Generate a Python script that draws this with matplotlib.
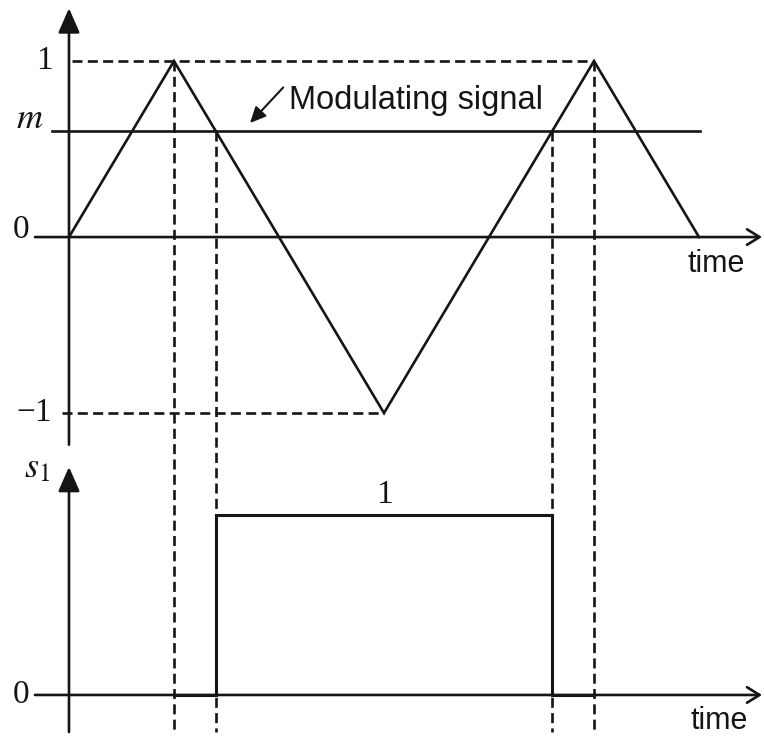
import matplotlib.pyplot as plt

plt.rcParams['mathtext.fontset'] = 'stix'

# carrier (triangle) and modulating level
carrier_t = [0, 1, 3, 5, 6]
carrier_v = [0, 1, -1, 1, 0]
m_level = 0.6
peak_t = [1, 5]
trough_t = 3
cross_t = [1.4, 4.6]

# switching signal s1
s1_t = [1, 1.4, 1.4, 4.6, 4.6, 5]
s1_v = [0, 0, 1, 1, 0, 0]

ink = '#151515'
lw = 1.9
dash = (0, (3.8, 2.0))
serif = 'Liberation Serif'
sans = 'Liberation Sans'

fig = plt.figure(figsize=(7.64, 7.36), dpi=100)
ax = fig.add_axes([0, 0, 1, 1])
ax2 = fig.add_axes([0, 0, 1, 1])
ax2.patch.set_visible(False)
for a in (ax, ax2):
    a.set_xlim(-0.657, 6.619)
    a.axis('off')
ax.set_ylim(-2.835, 1.347)
ax2.set_ylim(-0.228, 3.861)


def axis_arrow(a, tip, start, style):
    a.annotate('', xy=tip, xytext=start, annotation_clip=False,
               arrowprops=dict(arrowstyle=style, mutation_scale=20, lw=lw,
                               color=ink, shrinkA=0, shrinkB=0))


y_arrow = '-|>,head_length=0.75,head_width=0.33'
t_arrow = '->,head_length=0.45,head_width=0.28'

# --- upper panel ---
axis_arrow(ax, (0, 1.30), (0, -1.18), y_arrow)
axis_arrow(ax, (6.6, 0), (-0.324, 0), t_arrow)
ax.plot([-0.162, 6.01], [m_level, m_level], color=ink, lw=lw)
ax.plot(carrier_t, carrier_v, color=ink, lw=lw, solid_joinstyle='miter')

ax.plot([0.03, peak_t[1]], [1, 1], color=ink, lw=lw, ls=dash)
ax.plot([-0.067, trough_t], [-1, -1], color=ink, lw=lw, ls=dash)

y_bottom = -2.8125
for t in peak_t:
    ax.plot([t, t], [1, y_bottom], color=ink, lw=lw, ls=dash)
for t in cross_t:
    ax.plot([t, t], [m_level, y_bottom], color=ink, lw=lw, ls=dash)

ax.text(-0.15, 1.0, '1', family=serif, fontsize=24, ha='right', va='center', color=ink)
ax.text(-0.24, 0.62, '$m$', fontsize=26, ha='right', va='baseline', color=ink)
ax.text(-0.457, 0.04, '0', family=serif, fontsize=24, ha='center', va='center', color=ink)
ax.text(-0.16, -1.0, '\u22121', family=serif, fontsize=24, ha='right', va='center', color=ink)
ax.text(6.16, -0.199, 'time', family=sans, fontsize=22, ha='center', va='baseline', color=ink)

ax.text(2.1, 0.727, 'Modulating signal', family=sans, fontsize=23.5, ha='left', va='baseline', color=ink)
ax.annotate('', xy=(1.724, 0.648), xytext=(2.04, 0.85),
            arrowprops=dict(arrowstyle='-|>,head_length=0.6,head_width=0.28',
                            mutation_scale=16, lw=1.5, color=ink, shrinkA=0, shrinkB=0))

# --- lower panel ---
axis_arrow(ax2, (0, 1.267), (0, -0.206), y_arrow)
axis_arrow(ax2, (6.6, 0), (-0.324, 0), t_arrow)
ax2.plot(s1_t, s1_v, color=ink, lw=lw + 0.3, solid_joinstyle='miter')

ax2.text(-0.43, 1.21, '$s_1$', fontsize=26, ha='left', va='baseline', color=ink)
ax2.text(-0.457, 0.0, '0', family=serif, fontsize=24, ha='center', va='center', color=ink)
ax2.text(3.0, 1.11, '1', family=serif, fontsize=24, ha='center', va='center', color=ink)
ax2.text(6.19, -0.19, 'time', family=sans, fontsize=22, ha='center', va='baseline', color=ink)

fig.savefig('out.png', dpi=100, facecolor='white')
